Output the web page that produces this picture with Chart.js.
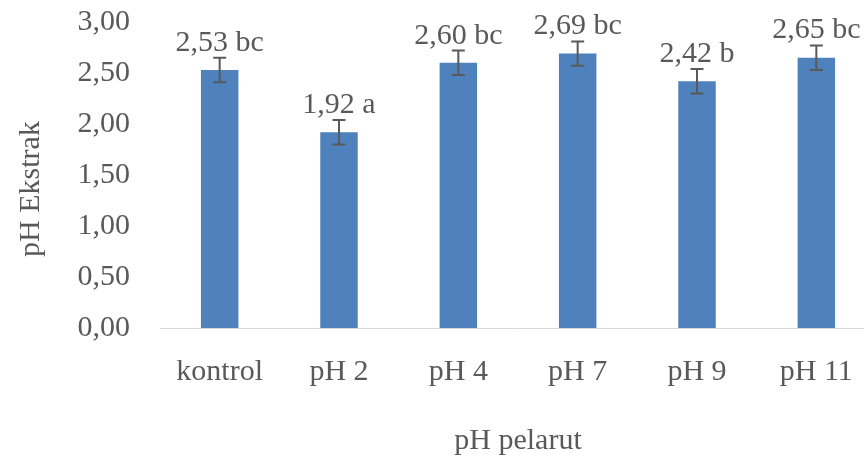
<!DOCTYPE html>
<html>
<head>
<meta charset="utf-8">
<script src="https://cdn.jsdelivr.net/npm/chart.js@4"></script>
<style>
  html, body { margin: 0; padding: 0; background: #ffffff; overflow: hidden; }
  #wrap { width: 880px; height: 460px; }
</style>
</head>
<body>
<div id="wrap"><canvas id="c" width="880" height="460"></canvas></div>
<script>
// pH of the extract for each solvent pH treatment
const categories = ['kontrol', 'pH 2', 'pH 4', 'pH 7', 'pH 9', 'pH 11'];
const phValues = [2.53, 1.92, 2.60, 2.69, 2.42, 2.65];
const stdErrors = [0.12, 0.12, 0.12, 0.12, 0.12, 0.12];
const groupLetters = ['bc', 'a', 'bc', 'bc', 'b', 'bc'];
const yTicks = [0, 0.5, 1, 1.5, 2, 2.5, 3];

const FONT = "'Liberation Serif', 'Times New Roman', serif";
const TEXT = '#595959';
const SIZE = 30;

const fmt = v => v.toFixed(2).replace('.', ',');

// Error bars and value labels drawn on top of the bars
const errorBarPlugin = {
  id: 'errorBars',
  afterDatasetsDraw(chart) {
    const ctx = chart.ctx;
    const y = chart.scales.y;
    const meta = chart.getDatasetMeta(0);
    ctx.save();
    meta.data.forEach((bar, i) => {
      const x = bar.x;
      const hi = y.getPixelForValue(phValues[i] + stdErrors[i]);
      const lo = y.getPixelForValue(phValues[i] - stdErrors[i]);
      ctx.strokeStyle = '#595959';
      ctx.lineWidth = 2;
      ctx.beginPath();
      ctx.moveTo(x, hi); ctx.lineTo(x, lo);
      ctx.moveTo(x - 6.5, hi); ctx.lineTo(x + 6.5, hi);
      ctx.moveTo(x - 6.5, lo); ctx.lineTo(x + 6.5, lo);
      ctx.stroke();
      ctx.fillStyle = TEXT;
      ctx.font = SIZE + 'px ' + FONT;
      ctx.textAlign = 'center';
      ctx.textBaseline = 'alphabetic';
      ctx.fillText(fmt(phValues[i]) + ' ' + groupLetters[i], x, hi - 7);
    });
    ctx.restore();
  }
};

// Vertical axis title
const yTitlePlugin = {
  id: 'yTitle',
  afterDraw(chart) {
    const ctx = chart.ctx;
    ctx.save();
    ctx.translate(31, 189);
    ctx.rotate(-Math.PI / 2);
    ctx.fillStyle = TEXT;
    ctx.font = SIZE + 'px ' + FONT;
    ctx.textAlign = 'center';
    ctx.textBaseline = 'middle';
    ctx.fillText('pH Ekstrak', 0, 0);
    ctx.restore();
  }
};

new Chart(document.getElementById('c'), {
  type: 'bar',
  data: {
    labels: categories,
    datasets: [{
      data: phValues,
      backgroundColor: '#4f81bd',
      borderWidth: 0,
      categoryPercentage: 1,
      barPercentage: 0.314
    }]
  },
  options: {
    responsive: false,
    animation: false,
    devicePixelRatio: 1,
    layout: { padding: { top: 22, right: 4, left: 0, bottom: 0 } },
    plugins: { legend: { display: false }, tooltip: { enabled: false } },
    scales: {
      x: {
        grid: { display: false, drawTicks: false },
        border: { display: true, color: '#d9d9d9', width: 1 },
        ticks: { color: TEXT, font: { family: FONT, size: SIZE }, padding: 26, maxRotation: 0, autoSkip: false },
        title: { display: true, text: 'pH pelarut', color: TEXT, font: { family: FONT, size: SIZE }, padding: { top: 0, bottom: 1 } },
        afterFit(scale) { scale.height = 132; }
      },
      y: {
        min: 0,
        max: 3,
        grid: { display: false, drawTicks: false },
        border: { display: false },
        afterBuildTicks(scale) { scale.ticks = yTicks.map(v => ({ value: v })); },
        ticks: { color: TEXT, font: { family: FONT, size: SIZE }, padding: 30, callback: v => fmt(v) },
        afterFit(scale) {
          scale.width = 160;
          scale.paddingTop = 0;
          scale.paddingBottom = 0;
        }
      }
    }
  },
  plugins: [errorBarPlugin, yTitlePlugin]
});
</script>
</body>
</html>
